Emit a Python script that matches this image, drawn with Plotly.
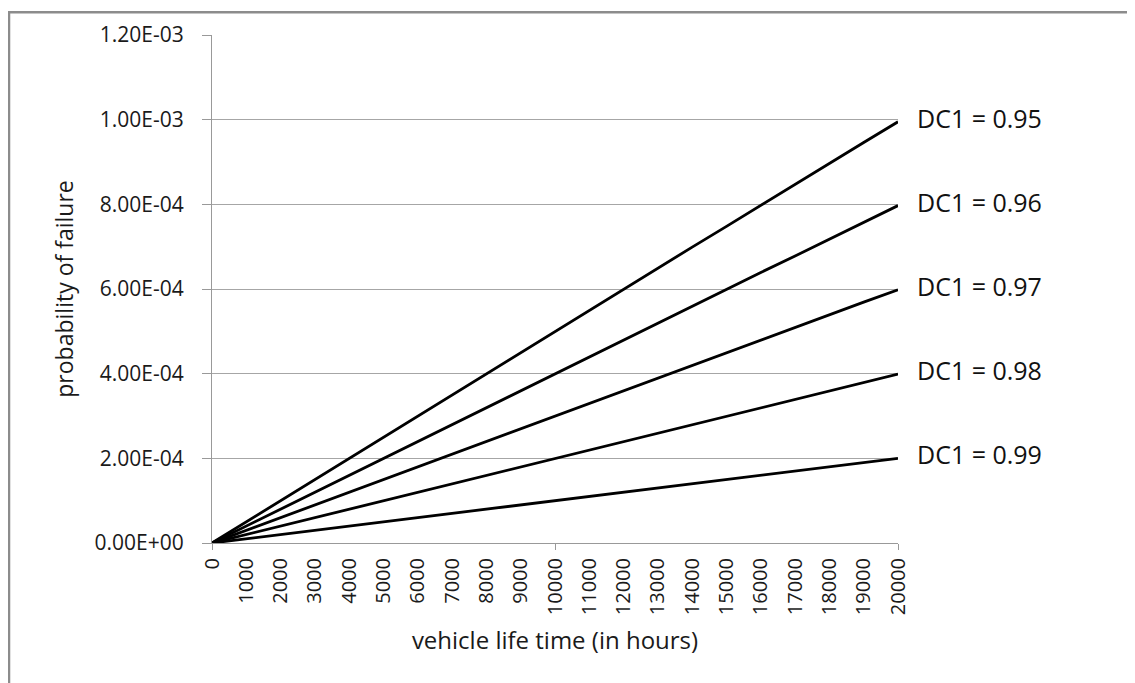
import plotly.graph_objects as go

# vehicle life time (hours)
hours = [0, 1000, 2000, 3000, 4000, 5000, 6000, 7000, 8000, 9000, 10000,
         11000, 12000, 13000, 14000, 15000, 16000, 17000, 18000, 19000, 20000]

# probability of failure, per diagnostic coverage
dc_labels = ["DC1 = 0.95", "DC1 = 0.96", "DC1 = 0.97", "DC1 = 0.98", "DC1 = 0.99"]
p_095 = [0, 5.0e-5, 1.0e-4, 1.5e-4, 2.0e-4, 2.5e-4, 3.0e-4, 3.5e-4, 4.0e-4, 4.5e-4, 5.0e-4,
         5.5e-4, 5.99e-4, 6.49e-4, 6.99e-4, 7.48e-4, 7.98e-4, 8.47e-4, 8.97e-4, 9.46e-4, 9.95e-4]
p_096 = [0, 4.0e-5, 8.0e-5, 1.2e-4, 1.6e-4, 2.0e-4, 2.4e-4, 2.8e-4, 3.2e-4, 3.6e-4, 4.0e-4,
         4.4e-4, 4.8e-4, 5.2e-4, 5.6e-4, 5.99e-4, 6.39e-4, 6.78e-4, 7.18e-4, 7.58e-4, 7.97e-4]
p_097 = [0, 3.0e-5, 6.0e-5, 9.0e-5, 1.2e-4, 1.5e-4, 1.8e-4, 2.1e-4, 2.4e-4, 2.7e-4, 3.0e-4,
         3.3e-4, 3.6e-4, 3.9e-4, 4.2e-4, 4.5e-4, 4.79e-4, 5.09e-4, 5.39e-4, 5.69e-4, 5.98e-4]
p_098 = [0, 2.0e-5, 4.0e-5, 6.0e-5, 8.0e-5, 1.0e-4, 1.2e-4, 1.4e-4, 1.6e-4, 1.8e-4, 2.0e-4,
         2.2e-4, 2.4e-4, 2.6e-4, 2.8e-4, 3.0e-4, 3.2e-4, 3.4e-4, 3.6e-4, 3.8e-4, 3.99e-4]
p_099 = [0, 1.0e-5, 2.0e-5, 3.0e-5, 4.0e-5, 5.0e-5, 6.0e-5, 7.0e-5, 8.0e-5, 9.0e-5, 1.0e-4,
         1.1e-4, 1.2e-4, 1.3e-4, 1.4e-4, 1.5e-4, 1.6e-4, 1.7e-4, 1.8e-4, 1.9e-4, 2.0e-4]
series = [p_095, p_096, p_097, p_098, p_099]

y_ticks = [0, 2e-4, 4e-4, 6e-4, 8e-4, 1e-3, 1.2e-3]
y_tick_text = ["0.00E+00", "2.00E-04", "4.00E-04", "6.00E-04", "8.00E-04", "1.00E-03", "1.20E-03"]

FONT = "Open Sans"
fig = go.Figure()
for name, ys in zip(dc_labels, series):
    fig.add_trace(go.Scatter(x=hours, y=ys, mode="lines", name=name,
                             line=dict(color="black", width=2.8)))
    fig.add_annotation(x=hours[-1], y=ys[-1], text=name, showarrow=False,
                       xanchor="left", xshift=17, yshift=4,
                       font=dict(family=FONT, size=25, color="#111"))

# page body adds 8px, so margins are shifted to keep the plot area in place
fig.update_layout(
    width=1135, height=683, showlegend=False,
    paper_bgcolor="white", plot_bgcolor="white",
    margin=dict(l=204, r=245, t=24, b=148),
    font=dict(family=FONT, color="#1a1a1a"),
    xaxis=dict(range=[0, 20000], tickvals=hours, ticktext=[str(h) for h in hours],
               tickangle=-90, ticks="", showgrid=False, zeroline=False,
               showline=True, linecolor="#999", linewidth=1,
               tickfont=dict(size=20), ticklabelstandoff=6,
               minor=dict(tickvals=[0, 10000, 20000], ticks="outside", ticklen=6,
                          tickcolor="#999", showgrid=False),
               title=dict(text="vehicle life time (in hours)", font=dict(size=24), standoff=18)),
    yaxis=dict(range=[0, 1.2e-3], tickvals=y_ticks, ticktext=y_tick_text,
               ticks="outside", ticklen=9, tickcolor="#999", ticklabelstandoff=14,
               showgrid=True, gridcolor="#a6a6a6", gridwidth=1, zeroline=False,
               showline=True, linecolor="#999", linewidth=1,
               tickfont=dict(size=21),
               title=dict(text="probability of failure", font=dict(size=23), standoff=14)),
)

# outer chart border (cropped on right and bottom)
fig.add_shape(type="rect", xref="paper", yref="paper",
              x0=-0.2959, x1=1.36, y0=-0.30, y1=1.045,
              line=dict(color="#8c8c8c", width=2.5), layer="above")

fig.write_html("out.html")
